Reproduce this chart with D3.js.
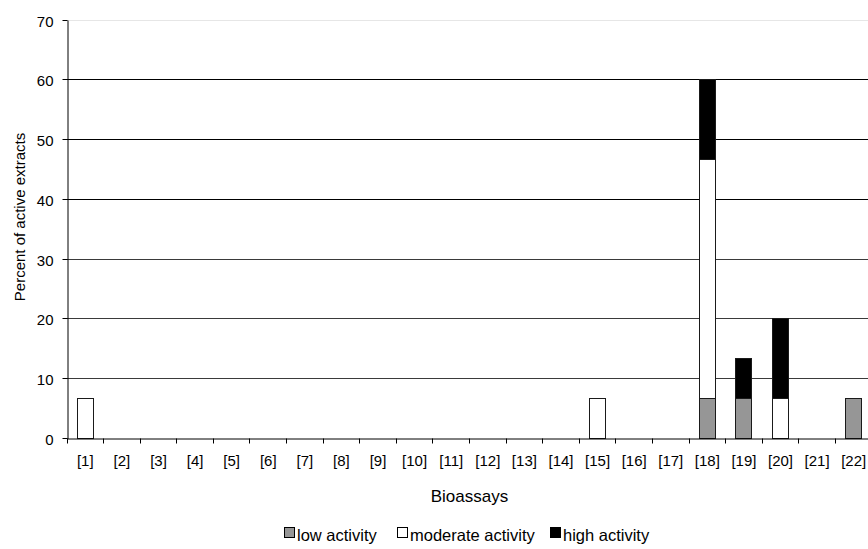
<!DOCTYPE html>
<html>
<head>
<meta charset="utf-8">
<script src="https://cdn.jsdelivr.net/npm/d3@7"></script>
<style>
  body { margin: 0; background: #fff; overflow: hidden; }
  text { font-family: "Liberation Sans", Arial, sans-serif; fill: #000; }
</style>
</head>
<body>
<div id="chart"></div>
<script>
// Data (each step is 1/15 of the extracts = 6.67 %)
var assays = ["[1]", "[2]", "[3]", "[4]", "[5]", "[6]", "[7]", "[8]", "[9]", "[10]", "[11]",
  "[12]", "[13]", "[14]", "[15]", "[16]", "[17]", "[18]", "[19]", "[20]", "[21]", "[22]"];
var lowActivity      = [0, 0, 0, 0, 0, 0, 0, 0, 0, 0, 0, 0, 0, 0, 0,    0, 0, 6.67, 6.67, 0,    0, 6.67];
var moderateActivity = [6.67, 0, 0, 0, 0, 0, 0, 0, 0, 0, 0, 0, 0, 0, 6.67, 0, 0, 40, 0,    6.67, 0, 0];
var highActivity     = [0, 0, 0, 0, 0, 0, 0, 0, 0, 0, 0, 0, 0, 0, 0,    0, 0, 13.33, 6.67, 13.33, 0, 0];
var seriesNames = ["low activity", "moderate activity", "high activity"];
var seriesColors = ["#969696", "#ffffff", "#000000"];
var yTicks = [0, 10, 20, 30, 40, 50, 60, 70];

var svgWidth = 868;
var svgHeight = 549;

// the plot runs a little past the right edge of the picture, like the original
var margin = { top: 20, left: 67 };
var width = 805;
var height = 418.5;

var svg = d3.select("#chart")
  .append("svg")
  .attr("width", svgWidth)
  .attr("height", svgHeight);

var chartGroup = svg.append("g")
  .attr("transform", `translate(${margin.left}, ${margin.top})`);

// table for the stack
var table = assays.map(function(a, i) {
  return { assay: a, low: lowActivity[i], moderate: moderateActivity[i], high: highActivity[i] };
});
var keys = ["low", "moderate", "high"];
var stacked = d3.stack().keys(keys)(table);

var xBandScale = d3.scaleBand()
  .domain(assays)
  .range([0, width])
  .paddingInner(0.563)
  .paddingOuter(0.2815);

var yLinearScale = d3.scaleLinear()
  .domain([0, 70])
  .range([height, 0]);

var px = v => Math.floor(v) + 0.5;

// gridlines (lower ones look a bit softer in the original)
chartGroup.append("g")
  .selectAll("line")
  .data(yTicks.filter(d => d > 0))
  .enter()
  .append("line")
  .attr("x1", 0)
  .attr("x2", width)
  .attr("y1", d => px(yLinearScale(d)))
  .attr("y2", d => px(yLinearScale(d)))
  .attr("stroke", d => d == 70 ? "#e6e6e6" : (d >= 40 ? "#000" : "#3a3a3a"))
  .attr("stroke-width", 1);

// bars
chartGroup.append("g")
  .selectAll("g")
  .data(stacked)
  .enter()
  .append("g")
  .attr("fill", (d, i) => seriesColors[i])
  .selectAll("rect")
  .data(d => d.filter(p => p[1] - p[0] > 0))
  .enter()
  .append("rect")
  .attr("x", d => px(xBandScale(d.data.assay)))
  .attr("y", d => px(yLinearScale(d[1])))
  .attr("width", Math.round(xBandScale.bandwidth()))
  .attr("height", d => Math.floor(yLinearScale(d[0])) - Math.floor(yLinearScale(d[1])))
  .attr("stroke", "#1a1a1a")
  .attr("stroke-width", 1);

// y axis
var leftAxis = d3.axisLeft(yLinearScale)
  .tickValues(yTicks)
  .tickSize(5)
  .tickSizeOuter(0)
  .tickPadding(9);

var yAxisGroup = chartGroup.append("g")
  .attr("transform", "translate(0.5, 0)")
  .call(leftAxis);
yAxisGroup.selectAll("text")
  .attr("font-size", "15px")
  .attr("dy", "0.45em")
  .style("font-family", "Liberation Sans, Arial, sans-serif");
yAxisGroup.selectAll("line").attr("stroke", "#000");
yAxisGroup.select(".domain").attr("stroke", "#000");
yAxisGroup.selectAll(".tick").each(function(d) {
  d3.select(this).attr("transform", `translate(0, ${px(yLinearScale(d))})`);
});

// x axis: ticks sit between categories
var bottomAxis = d3.axisBottom(xBandScale).tickSize(0).tickPadding(17);
var xAxisGroup = chartGroup.append("g")
  .attr("transform", `translate(0, ${px(height)})`)
  .call(bottomAxis);
xAxisGroup.select(".domain").attr("stroke", "#000");
xAxisGroup.selectAll("text")
  .attr("font-size", "15px")
  .style("font-family", "Liberation Sans, Arial, sans-serif");

xAxisGroup.selectAll(".sep")
  .data(d3.range(0, assays.length + 1))
  .enter()
  .append("line")
  .attr("class", "sep")
  .attr("x1", i => px(i * xBandScale.step()))
  .attr("x2", i => px(i * xBandScale.step()))
  .attr("y1", 0)
  .attr("y2", 5)
  .attr("stroke", "#000");

// axis titles
svg.append("text")
  .attr("transform", "rotate(-90)")
  .attr("x", -217)
  .attr("y", 25)
  .attr("text-anchor", "middle")
  .attr("font-size", "15px")
  .text("Percent of active extracts");

chartGroup.append("text")
  .attr("x", width / 2)
  .attr("y", 502 - margin.top)
  .attr("text-anchor", "middle")
  .attr("font-size", "17px")
  .text("Bioassays");

// legend
var legendX = [284, 397, 550];
var legend = svg.append("g");
legend.selectAll("rect")
  .data(seriesNames)
  .enter()
  .append("rect")
  .attr("x", (d, i) => legendX[i] + 0.5)
  .attr("y", 527.5)
  .attr("width", 10)
  .attr("height", 10)
  .attr("fill", (d, i) => seriesColors[i])
  .attr("stroke", "#000");
legend.selectAll("text")
  .data(seriesNames)
  .enter()
  .append("text")
  .attr("x", (d, i) => legendX[i] + 13)
  .attr("y", 541)
  .attr("font-size", "16.5px")
  .text(d => d);
</script>
</body>
</html>
